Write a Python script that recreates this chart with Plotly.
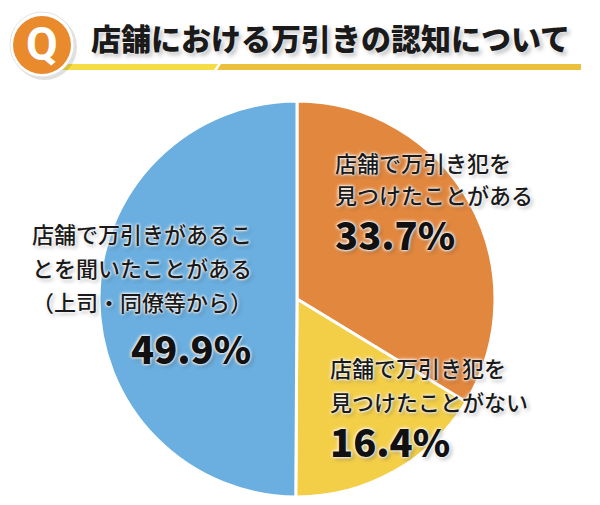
import plotly.graph_objects as go

# slices, clockwise from 12 o'clock
labels = ["店舗で万引き犯を見つけたことがある", "店舗で万引き犯を見つけたことがない",
          "店舗で万引きがあることを聞いたことがある（上司・同僚等から）"]
values = [33.7, 16.4, 49.9]
colors = ["#e2873e", "#f3cf48", "#6aafe0"]

# label text, line by line
label_lines = [
    ["店舗で万引き犯を", "見つけたことがある"],
    ["店舗で万引き犯を", "見つけたことがない"],
    ["店舗で万引きがあるこ", "とを聞いたことがある", "（上司・同僚等から）"],
]
pct_text = ["33.7%", "16.4%", "49.9%"]

title = "店舗における万引きの認知について"

W, H = 600, 505
FONT = "Noto Sans CJK JP"
HALO = "0 0 2px white, 0 0 3px white, 0 0 4px white, 2px 2px 4px rgba(0,0,0,0.35)"


def px(x):
    return x / W


def py(y):
    return 1 - y / H


fig = go.Figure(go.Pie(
    labels=labels,
    values=values,
    marker=dict(colors=colors, line=dict(color="white", width=3)),
    sort=False,
    direction="clockwise",
    rotation=0,
    textinfo="none",
    hoverinfo="label+value",
    showlegend=False,
    domain=dict(x=[px(99), px(495)], y=[py(497), py(101)]),
))

annotations = []

# positions of label blocks (left x, line y's, pct y, pct x / anchor)
blocks = [
    dict(x=333, ys=[162, 194], py_=234, px_=333, anchor="left"),
    dict(x=328, ys=[367, 401], py_=440, px_=328, anchor="left"),
    dict(x=30, ys=[233, 267, 301], py_=347, px_=253, anchor="right"),
]
for lines, pct, b in zip(label_lines, pct_text, blocks):
    for line, y in zip(lines, b["ys"]):
        annotations.append(dict(
            text=line, x=px(b["x"]), y=py(y), xref="paper", yref="paper",
            xanchor="left", yanchor="middle", showarrow=False,
            font=dict(family=FONT, size=22, color="#1a1a1a", weight=500, shadow=HALO),
        ))
    annotations.append(dict(
        text=pct, x=px(b["px_"]), y=py(b["py_"]), xref="paper", yref="paper",
        xanchor=b["anchor"], yanchor="middle", showarrow=False,
        font=dict(family=FONT, size=38, color="#111111", weight=900, shadow=HALO),
    ))

# title
annotations.append(dict(
    text=title, x=px(89), y=py(37), xref="paper", yref="paper",
    xanchor="left", yanchor="middle", showarrow=False,
    font=dict(family=FONT, size=30, color="#1a1a1a", weight=900,
              shadow="0 0 3px white, 3px 3px 4px rgba(0,0,0,0.25)"),
))
annotations.append(dict(
    text="Q", x=px(42), y=py(44), xref="paper", yref="paper",
    xanchor="center", yanchor="middle", showarrow=False,
    font=dict(family="Roboto", size=46, color="white", weight=700),
))

shapes = [
    # underline bar, two pieces with a slanted gap
    dict(type="path", xref="paper", yref="paper",
         path=f"M {px(62)},{py(64)} L {px(218)},{py(64)} L {px(214)},{py(70)} L {px(62)},{py(70)} Z",
         fillcolor="#f6dc45", line=dict(width=0), layer="below"),
    dict(type="path", xref="paper", yref="paper",
         path=f"M {px(221)},{py(64)} L {px(581)},{py(64)} L {px(581)},{py(70)} L {px(217)},{py(70)} Z",
         fillcolor="#ecc03a", line=dict(width=0), layer="below"),
    # Q badge
    dict(type="circle", xref="paper", yref="paper",
         x0=px(12), x1=px(77), y0=py(80), y1=py(14),
         fillcolor="rgba(0,0,0,0.12)", line=dict(width=0)),
    dict(type="circle", xref="paper", yref="paper",
         x0=px(10), x1=px(74), y0=py(77), y1=py(12),
         fillcolor="white", line=dict(color="#e4e4e4", width=1)),
    dict(type="circle", xref="paper", yref="paper",
         x0=px(13), x1=px(71), y0=py(74), y1=py(16),
         fillcolor="#e98a2c", line=dict(width=0)),
]

fig.update_layout(
    width=W, height=H,
    margin=dict(l=0, r=0, t=0, b=0),
    paper_bgcolor="white",
    plot_bgcolor="white",
    annotations=annotations,
    shapes=shapes,
)

fig.write_html("out.html", config={"displayModeBar": False},
               post_script="document.body.style.margin='0';")
